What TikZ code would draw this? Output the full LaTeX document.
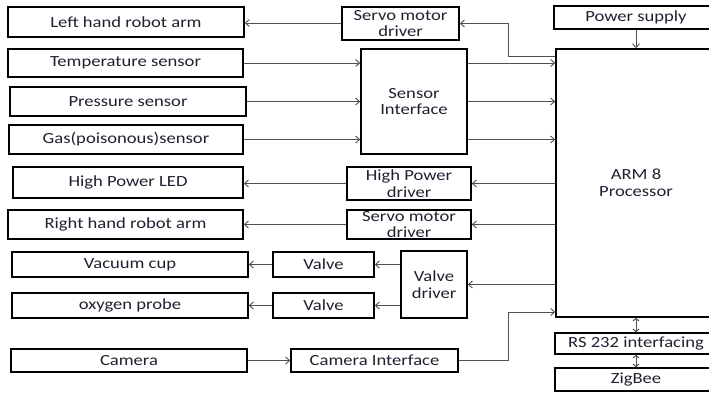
\documentclass[tikz,border=0pt]{standalone}
\usepackage{fontspec}
\setmainfont{Carlito}[FakeStretch=1.2]
\usetikzlibrary{arrows.meta}
\definecolor{txt}{HTML}{202030}
\definecolor{ln}{HTML}{505050}
\begin{document}
\begin{tikzpicture}[x=1pt,y=-1pt,
  box/.style={draw=black,line width=1.5pt,inner sep=0pt,align=center,text=txt,
    font=\fontsize{15.5}{16.5}\selectfont},
  arr/.style={draw=ln,line width=0.9pt,-{Straight Barb[length=4pt,width=7pt]}},
  dbl/.style={draw=ln,line width=1pt,{Straight Barb[length=2.5pt,width=6pt]}-{Straight Barb[length=2.5pt,width=6pt]}}]
\useasboundingbox (0,0) rectangle (709,392);
% left column
\node[box,minimum width=236,minimum height=30] (lh) at (126,22) {Left hand robot arm};
\node[box,minimum width=235,minimum height=28] (temp) at (125.5,63) {Temperature sensor};
\node[box,minimum width=236,minimum height=29] (press) at (128,101.5) {Pressure sensor};
\node[box,minimum width=234,minimum height=29] (gas) at (126,139.5) {Gas(poisonous)sensor};
\node[box,minimum width=230,minimum height=31] (led) at (128,182.5) {High Power LED};
\node[box,minimum width=235,minimum height=29] (rh) at (125.5,224.5) {Right hand robot arm};
\node[box,minimum width=236,minimum height=25] (vac) at (130,264.5) {Vacuum cup};
\node[box,minimum width=236,minimum height=25] (oxy) at (130,305.5) {oxygen probe};
\node[box,minimum width=236,minimum height=23] (cam) at (129,360.5) {Camera};
% middle column
\node[box,minimum width=117,minimum height=33] (servo1) at (400.5,23.5) {Servo motor\\driver};
\node[box,minimum width=106,minimum height=105] (sensI) at (414,101.5) {Sensor\\Interface};
\node[box,minimum width=124,minimum height=33] (hpd) at (409,183.5) {High Power\\driver};
\node[box,minimum width=124,minimum height=29] (servo2) at (409,224.5) {Servo motor\\driver};
\node[box,minimum width=101,minimum height=25] (valve1) at (323.5,264.5) {Valve};
\node[box,minimum width=101,minimum height=25] (valve2) at (323.5,305.5) {Valve};
\node[box,minimum width=66,minimum height=67] (vdrv) at (434,284.5) {Valve\\driver};
\node[box,minimum width=167,minimum height=23] (camI) at (374.5,360.5) {Camera Interface};
% right column
\node[box,minimum width=164,minimum height=23] (power) at (636,17.5) {Power supply};
\node[box,minimum width=160,minimum height=268] (arm) at (636,183) {ARM 8\\Processor};
\node[box,minimum width=162,minimum height=21] (rs) at (636,343.5) {RS 232 interfacing};
\node[box,minimum width=162,minimum height=23] (zig) at (636,379.5) {ZigBee};
% helper coordinates
\coordinate (k1) at (508,56);
\coordinate (k2) at (508,312);
% connectors
\draw[arr] (servo1.west |- 0,23) -- (lh.east |- 0,23);
\draw[arr] (arm.west |- k1) -- (k1) |- (servo1.east);
\draw[arr] (temp.east) -- (sensI.west |- temp.east);
\draw[arr] (press.east) -- (sensI.west |- press.east);
\draw[arr] (gas.east) -- (sensI.west |- gas.east);
\draw[arr] (sensI.east |- temp.east) -- (arm.west |- temp.east);
\draw[arr] (sensI.east |- press.east) -- (arm.west |- press.east);
\draw[arr] (sensI.east |- gas.east) -- (arm.west |- gas.east);
\draw[arr] (arm.west |- hpd.east) -- (hpd.east);
\draw[arr] (hpd.west) -- (led.east |- hpd.west);
\draw[arr] (arm.west |- servo2.east) -- (servo2.east);
\draw[arr] (servo2.west) -- (rh.east |- servo2.west);
\draw[arr] (arm.west |- vdrv.east) -- (vdrv.east);
\draw[arr] (vdrv.west |- valve1.east) -- (valve1.east);
\draw[arr] (vdrv.west |- valve2.east) -- (valve2.east);
\draw[arr] (valve1.west) -- (vac.east |- valve1.west);
\draw[arr] (valve2.west) -- (oxy.east |- valve2.west);
\draw[arr] (cam.east) -- (camI.west |- cam.east);
\draw[arr] (camI.east) -| (k2) -- (arm.west |- k2);
\draw[arr] (power.south) -- (arm.north);
\draw[dbl] (arm.south) -- (rs.north);
\draw[dbl] (rs.south) -- (zig.north);
\end{tikzpicture}
\end{document}
